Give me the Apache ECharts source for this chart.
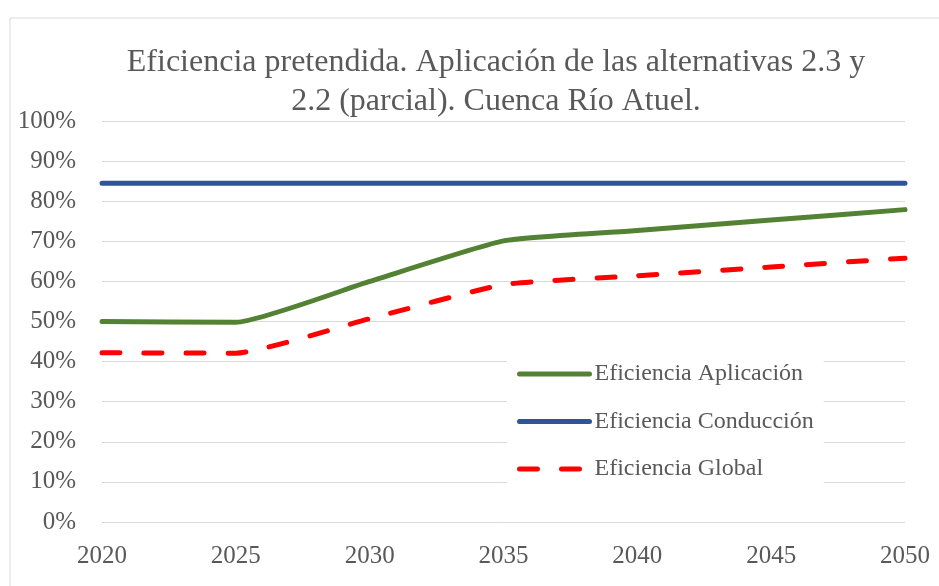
<!DOCTYPE html>
<html><head><meta charset="utf-8">
<script src="https://cdn.jsdelivr.net/npm/echarts@6/dist/echarts.min.js"></script>
<style>html,body{margin:0;padding:0;background:#fff}#c{width:939px;height:586px}</style>
</head><body><div id="c"></div>
<script>
const titleText = 'Eficiencia pretendida. Aplicación de las alternativas 2.3 y\n2.2 (parcial). Cuenca Río Atuel.';
const years = [2020, 2025, 2030, 2035, 2040, 2045, 2050];
const aplicacion = [50, 49.8, 60, 70.1, 72.7, 75.3, 77.9];
const conduccion = [84.5, 84.5, 84.5, 84.5, 84.5, 84.5, 84.5];
const global = [42.2, 42.1, 50.7, 59.2, 61.4, 63.6, 65.8];
const seriesNames = ['Eficiencia Aplicación', 'Eficiencia Conducción', 'Eficiencia Global'];
const yTicks = [0, 10, 20, 30, 40, 50, 60, 70, 80, 90, 100];

const font = 'Liberation Serif';
const txt = '#595959';
const pair = (arr) => years.map((y, i) => [y, arr[i]]);

const chart = echarts.init(document.getElementById('c'), null, {renderer: 'canvas'});
chart.setOption({
  animation: false,
  backgroundColor: '#fff',
  graphic: [{
    type: 'rect', left: 7.5, top: 15.5, shape: {width: 1000, height: 1000},
    style: {fill: 'none', stroke: '#d9d9d9', lineWidth: 1}, z: -10
  }],
  title: {
    text: titleText, left: 496, top: 43, textAlign: 'center', padding: 0,
    textStyle: {fontFamily: font, fontSize: 32, fontWeight: 'normal', color: txt, lineHeight: 39}
  },
  grid: {left: 102, right: 34, top: 121, bottom: 64, containLabel: false},
  xAxis: {
    type: 'value', min: 2020, max: 2050, interval: 5,
    axisLine: {show: false}, axisTick: {show: false}, splitLine: {show: false},
    axisLabel: {fontFamily: font, fontSize: 25, color: txt, margin: 22, formatter: v => String(v)}
  },
  yAxis: {
    type: 'value', min: 0, max: 100, interval: 10,
    axisLine: {show: false}, axisTick: {show: false},
    splitLine: {lineStyle: {color: '#d9d9d9', width: 1}},
    axisLabel: {fontFamily: font, fontSize: 25, color: txt, margin: 26,
      formatter: v => (yTicks.includes(v) ? v + '%' : '')}
  },
  legend: {
    orient: 'vertical', left: 507, top: 350, padding: [12, 10, 12, 10],
    backgroundColor: '#fff', itemWidth: 70, itemHeight: 14, itemGap: 23.5,
    itemStyle: {opacity: 0},
    lineStyle: {width: 5, cap: 'round'},
    textStyle: {fontFamily: font, fontSize: 24, color: txt},
    data: seriesNames
  },
  series: [
    {name: seriesNames[0], type: 'line', data: pair(aplicacion), symbol: 'none', smooth: 0.15,
      lineStyle: {color: '#548235', width: 5, cap: 'round'}, itemStyle: {color: '#548235'}, z: 3},
    {name: seriesNames[1], type: 'line', data: pair(conduccion), symbol: 'none',
      lineStyle: {color: '#2F5597', width: 5, cap: 'round'}, itemStyle: {color: '#2F5597'}, z: 3},
    {name: seriesNames[2], type: 'line', data: pair(global), symbol: 'none', smooth: 0.15,
      lineStyle: {color: '#FF0000', width: 5, type: [18, 24], cap: 'round'}, itemStyle: {color: '#FF0000'}, z: 3}
  ]
});
</script></body></html>
